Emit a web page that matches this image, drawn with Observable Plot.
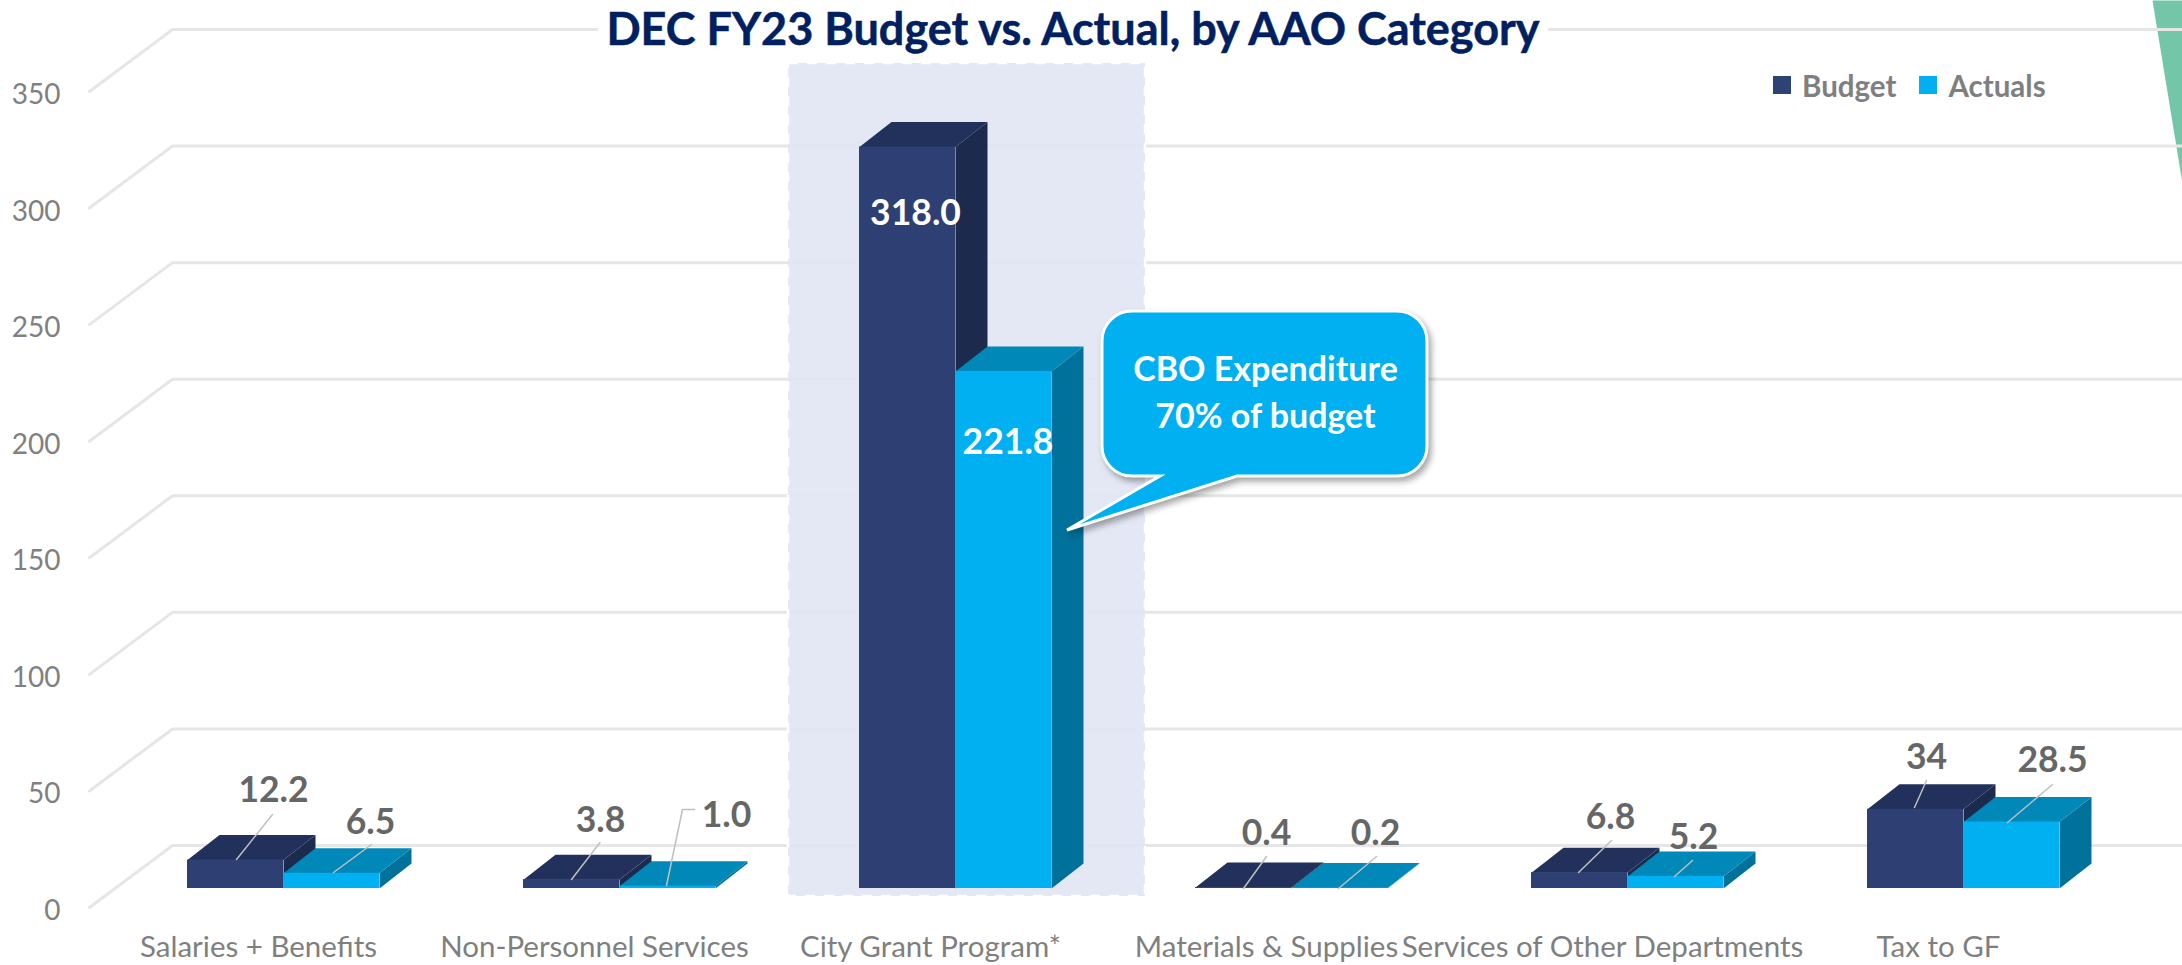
<!DOCTYPE html>
<html><head><meta charset="utf-8">
<script src="https://cdn.jsdelivr.net/npm/d3@7"></script>
<script src="https://cdn.jsdelivr.net/npm/@observablehq/plot@0.6"></script>
<style>
html,body{margin:0;padding:0;background:#fff;overflow:hidden}
#wrap{position:relative;width:2182px;height:965px}
#title{position:absolute;left:598px;top:2px;width:950px;height:52px;text-align:center;background:#fff;color:#002060;font:700 45px/52px Lato,sans-serif;-webkit-text-stroke:.5px #002060;margin:0;white-space:nowrap}
#legend{position:absolute;left:1773px;top:67px;height:36px;display:flex;align-items:center;color:#7f7f7f;font:700 29.5px Lato,sans-serif}
#legend i{display:inline-block;width:18px;height:18px;margin-right:11px}
#legend span{margin-right:23px}
</style></head><body>
<div id="wrap"><div id="chart"></div>
<h1 id="title">DEC FY23 Budget vs. Actual, by AAO Category</h1>
<div id="legend"><i style="background:#2e4274"></i><span>Budget</span><i style="background:#00b0f0"></i><span>Actuals</span></div>
</div>
<script>
const categories = ["Salaries + Benefits","Non-Personnel Services","City Grant Program*","Materials & Supplies","Services of Other Departments","Tax to GF"];
const budget = [12.2,3.8,318.0,0.4,6.8,34];
const actuals = [6.5,1.0,221.8,0.2,5.2,28.5];
const budgetLabels = ["12.2","3.8","318.0","0.4","6.8","34"];
const actualLabels = ["6.5","1.0","221.8","0.2","5.2","28.5"];
const yTicks = [0,50,100,150,200,250,300,350];

// Layout: pixel anchors converted to data units so every mark goes through the scales
const X0=283, XU=336, Y0=888, YU=816/350;
const X = px => (px-X0)/XU, Y = py => (Y0-py)/YU;
const barW = 96/XU, depthX = 32/XU, depthY = 25/YU;

const labelPos = { // label centre for [budget, actual]
  budget:[[273,790],[600,820],[915,213],[1266,833],[1610,817],[1926,757]],
  actual:[[370,822],[726,815],[1007.5,442],[1375,833],[1693,837],[2052,760]]
};
const leaders = [
  [[272,814],[236,859]], [[371,844],[333,872]],
  [[599.5,842],[571,879]], [[694,809],[682,809],[666,885]],
  [[1266,856],[1243,888]], [[1376,856],[1338,888]],
  [[1611,840],[1578,872]], [[1692,860],[1674,876]],
  [[1926,780],[1914,807]], [[2052,784],[2007,822]]
];

const bars = s => (s==0?budget:actuals).map((v,i)=>({i,v,x1:i+(s==0?-barW:0),x2:i+(s==0?0:barW)}));
const topFace = rows => rows.flatMap(d=>[[d.x1,d.v],[d.x2,d.v],[d.x2+depthX,d.v+depthY],[d.x1+depthX,d.v+depthY]].map(p=>({id:d.i,x:p[0],y:p[1]})));
const sideFace = rows => rows.flatMap(d=>[[d.x2,0],[d.x2,d.v],[d.x2+depthX,d.v+depthY],[d.x2+depthX,depthY]].map(p=>({id:d.i,x:p[0],y:p[1]})));

const gridRows = yTicks.flatMap(v=>[[X(89),v+Y(907)],[X(172),v+Y(845)],[X(2190),v+Y(845)]].map(p=>({id:v,x:p[0],y:p[1]})));
const wedge = [[2152,0],[2190,0],[2190,183],[2182,183]].map(p=>({x:X(p[0]),y:Y(p[1])}));
const leaderRows = leaders.flatMap((l,k)=>l.map(p=>({id:k,x:X(p[0]),y:Y(p[1])})));

const face = (rows,fill)=>Plot.line(rows,{x:"x",y:"y",z:"id",fill,stroke:"none",curve:"linear"});
const set = (s,cTop,cSide,cFront)=>{const r=bars(s);return [
  face(sideFace(r),cSide), face(topFace(r),cTop),
  Plot.rect(r,{x1:"x1",x2:"x2",y1:()=>0,y2:"v",fill:cFront})];};
const labelRows = (pos,txt)=>pos.map((p,i)=>({x:X(p[0]),y:Y(p[1]),t:txt[i],i}));
const grayLabels = [...labelRows(labelPos.budget,budgetLabels),...labelRows(labelPos.actual,actualLabels)].filter(d=>d.i!==2);
const whiteLabels = [labelRows(labelPos.budget,budgetLabels)[2],labelRows(labelPos.actual,actualLabels)[2]];

const callout = (index,{x,y})=>{
  const L=1102,R=1427,T=311,B=476,r=30;
  const p=d3.path();
  p.moveTo(L+r,T);p.lineTo(R-r,T);p.arcTo(R,T,R,T+r,r);p.lineTo(R,B-r);p.arcTo(R,B,R-r,B,r);
  p.lineTo(1237,B);p.lineTo(1067,530);p.lineTo(1160,B);
  p.lineTo(L+r,B);p.arcTo(L,B,L,B-r,r);p.lineTo(L,T+r);p.arcTo(L,T,L+r,T,r);p.closePath();
  return d3.create("svg:path").attr("d",p.toString()).attr("fill","#00b0f0").attr("stroke","#fff").attr("stroke-width",3)
    .style("filter","drop-shadow(3px 4px 3px rgba(0,0,0,.35))").node();
};

const chart = Plot.plot({
  width:2182,height:965,margin:0,marginLeft:60,marginBottom:32,
  style:{fontFamily:"Lato, sans-serif",background:"#fff"},
  x:{type:"linear",domain:[0,5],range:[X0,X0+5*XU]},
  y:{type:"linear",domain:[0,350],range:[Y0,Y0-350*YU]},
  marks:[
    Plot.line(wedge,{x:"x",y:"y",fill:"#74c6a9",stroke:"none"}),
    Plot.line(gridRows,{x:"x",y:"y",z:"id",stroke:"#e6e6e6",strokeWidth:3,curve:"linear"}),
    Plot.rect([0],{x1:()=>X(788),x2:()=>X(1145),y1:()=>Y(896),y2:()=>Y(63),fill:"#e2e6f4",fillOpacity:.92,stroke:"#ffffff",strokeWidth:2.5,strokeDasharray:"10,9"}),
    Plot.axisY({ticks:yTicks,tickSize:0,tickPadding:0,dy:22.5,fontSize:28,color:"#808080",label:null}),
    Plot.axisX({ticks:[0,1,2,3,4,5],tickFormat:i=>categories[i],tickSize:0,tickPadding:0,dx:-25,dy:3,fontSize:29.5,color:"#7f7f7f",label:null}),
    ...set(0,"#22315b","#1c2b4d","#2e4073"),
    ...set(1,"#0088b8","#00719b","#00b0f0"),
    Plot.line(leaderRows,{x:"x",y:"y",z:"id",stroke:"#bfbfbf",strokeWidth:1.5,curve:"linear"}),
    Plot.text(grayLabels,{x:"x",y:"y",text:"t",fontSize:35.5,fontWeight:700,fill:"#666666"}),
    Plot.text(whiteLabels,{x:"x",y:"y",text:"t",fontSize:35.5,fontWeight:700,fill:"#ffffff"}),
    callout,
    Plot.text(["CBO Expenditure","70% of budget"],{x:()=>X(1265),y:(d,i)=>Y(i?417:370),text:d=>d,fontSize:34,fontWeight:700,fill:"#ffffff"})
  ]
});
document.getElementById("chart").append(chart);
</script>
</body></html>
